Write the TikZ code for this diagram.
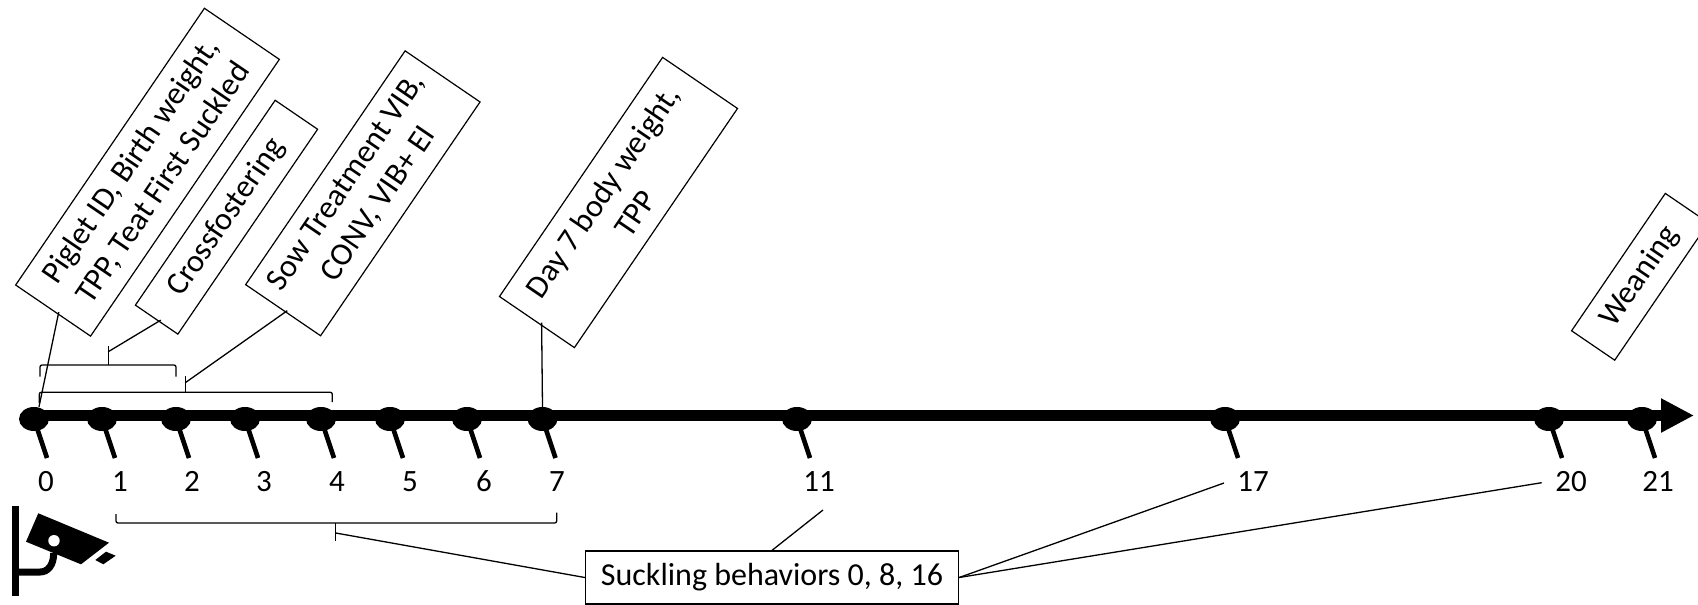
\documentclass[tikz,border=0pt]{standalone}
\usepackage{fontspec}
\setmainfont{Carlito}
\usetikzlibrary{arrows.meta,shapes.geometric}
\tikzset{
  notebox/.style={draw=black,line width=1.2pt,fill=white,rotate=55.7,inner sep=0pt,align=center,font=\fontsize{32}{39}\selectfont},
  thin line/.style={draw=black,line width=1.3pt},
  bracket/.style={draw=black,line width=1.3pt,rounded corners=2pt},
  daydot/.style={ellipse,fill=black,draw=none,minimum width=30pt,minimum height=24pt,inner sep=0pt},
  daytick/.style={draw=black,line width=4.6pt},
  daylabel/.style={inner sep=0pt,anchor=base,font=\fontsize{31}{37}\selectfont}
}
\begin{document}
\begin{tikzpicture}[x=1pt,y=-1pt]
\useasboundingbox (0,0) rectangle (1698,605);
\clip (0,0) rectangle (1698,605);
% dots
\foreach \n/\x in {0/34,1/102,2/176,3/245,4/321,5/390,6/467,7/542.5,11/797,17/1225,20/1549,21/1642}{
  \node[daydot] (d\n) at (\x,419) {};
  \coordinate (e\n) at (\x+13,458);
  \draw[daytick] (\x+3,428) -- (e\n);
}
% axis
\coordinate (axstart) at (34,415.5);
\coordinate (axtip) at (1694,415.5);
\draw[line width=10.7pt,-{Triangle[length=33pt,width=32pt]}] (axstart) -- (axtip);
% day labels
\foreach \n/\x in {0/46,1/120,2/192,3/264,4/337,5/410,6/484,7/557,11/819,17/1253,20/1571,21/1658}{
  \node[daylabel] (l\n) at (\x,491.5) {\n};
}
% note boxes
\node[notebox,minimum width=335pt,minimum height=90.7pt] (piglet) at (147.5,172.2) {Piglet ID, Birth weight,\\TPP, Teat First Suckled};
\node[notebox,minimum width=248pt,minimum height=51.4pt] (cross) at (226.5,217.2) {Crossfostering};
\node[notebox,minimum width=283pt,minimum height=90.7pt] (sow) at (362.85,193.3) {Sow Treatment VIB,\\CONV, VIB+ EI};
\node[notebox,minimum width=289.5pt,minimum height=90.7pt] (day7) at (618.5,202.5) {Day 7 body weight,\\TPP};
\node[notebox,minimum width=166.3pt,minimum height=52.2pt] (wean) at (1640,276.8) {Weaning};
\node[draw=black,line width=1.3pt,fill=white,inner sep=0pt,minimum width=373pt,minimum height=53pt,font=\fontsize{32}{39}\selectfont] (suck) at (772,577.5) {\raisebox{-2pt}{Suckling behaviors 0, 8, 16}};
% upper bracket
\coordinate (ba) at (108.3,351.7);
\draw[bracket] (40,376.7) -- (40,365) -- (176,365) -- (176,376.7);
\draw[thin line] (108.3,346) -- (108.3,365);
% lower bracket
\coordinate (bb) at (185.3,382.7);
\draw[bracket] (39.3,403) -- (39.3,392.3) -- (332.3,392.3) -- (332.3,402);
\draw[thin line] (185.3,376) -- (185.3,392.3);
% bottom bracket
\coordinate (bc) at (335.7,533);
\draw[bracket] (116,514) -- (116,523) -- (556.7,523) -- (556.7,512.7);
\draw[thin line] (335.7,523) -- (335.7,540.7);
% connectors
\coordinate (t11) at (823,510);
\coordinate (t17) at (1224,483);
\coordinate (t20) at (1541.7,482.7);
\draw[thin line] ([xshift=6pt,yshift=-1pt]piglet.west) -- ([xshift=5pt]d0.north);
\draw[thin line] ([xshift=4.5pt]cross.west) -- (ba);
\draw[thin line] ([xshift=4.5pt]sow.west) -- (bb);
\draw[thin line] ([xshift=5pt]day7.west) -- (d7.north);
\draw[thin line] (suck.west) -- (bc);
\draw[thin line] (suck.north) -- (t11);
\draw[thin line] (suck.east) -- (t17);
\draw[thin line] (suck.east) -- (t20);
% camera icon
\fill[black] (11.7,506) rectangle (19,596);
\fill[black] (38.3,513.3) -- (109,542.7) -- (81,564.3) -- (26,541.7) -- cycle;
\fill[white] (54,540.7) circle (5.7);
\fill[black] (106,551.7) -- (115.7,555.7) -- (103.3,564.3) -- (95.3,560) -- cycle;
\draw[black,line width=7pt] (19,572) -- (40,572) .. controls (48,572) and (53.7,565) .. (53.7,553);
\end{tikzpicture}
\end{document}
